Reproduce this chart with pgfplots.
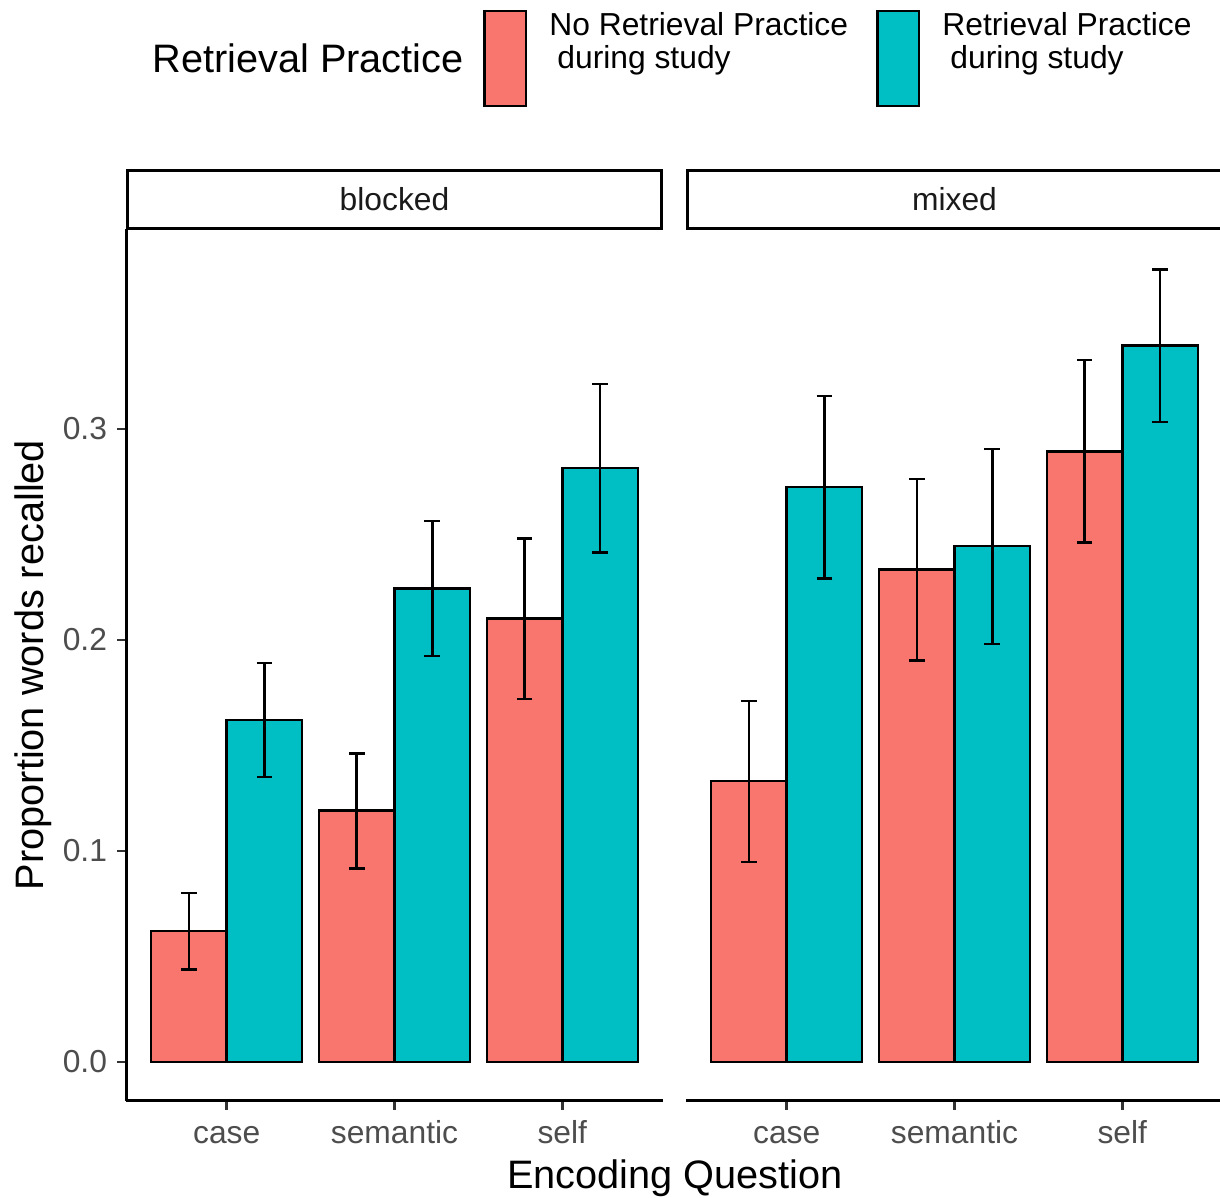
\documentclass[border=0pt]{standalone}
\usepackage{fontspec}
\setmainfont{Liberation Sans}
\usepackage{pgfplots}
\pgfplotsset{compat=1.18}
\usepackage{pgfplotstable}
\definecolor{cRed}{HTML}{F8766D}
\definecolor{cTeal}{HTML}{00BFC4}
\definecolor{labc}{HTML}{4D4D4D}
\definecolor{tickc}{HTML}{333333}
\definecolor{stripc}{HTML}{1A1A1A}
\newcommand{\bigf}{\fontsize{19.85pt}{23.8pt}\selectfont}
\newcommand{\smf}{\fontsize{15.9pt}{19pt}\selectfont}

\pgfplotstableread{
x y ep em
0.775 0.0621 0.0179 0.0182
1.775 0.1191 0.0270 0.0273
2.775 0.2103 0.0379 0.0383
}\blockedNo
\pgfplotstableread{
x y ep em
1.225 0.1621 0.0270 0.0270
2.225 0.2243 0.0321 0.0320
3.225 0.2814 0.0399 0.0400
}\blockedYes
\pgfplotstableread{
x y ep em
0.775 0.1332 0.0379 0.0384
1.775 0.2335 0.0428 0.0433
2.775 0.2894 0.0432 0.0431
}\mixedNo
\pgfplotstableread{
x y ep em
1.225 0.2724 0.0432 0.0432
2.225 0.2445 0.0459 0.0464
3.225 0.3395 0.0360 0.0362
}\mixedYes

\pgfplotsset{
  panel/.style={
    scale only axis, width=268.5pt, height=436pt,
    xmin=0.4, xmax=3.6, ymin=-0.01848, ymax=0.39479,
    xtick={1,2,3}, xticklabels={case,semantic,self},
    tick align=outside, major tick length=4.5pt,
    major tick style={color=tickc, line width=1.2pt},
    axis line style={line width=1.5pt, black},
    xticklabel style={font=\smf, text=labc, anchor=base, inner sep=0pt, yshift=-16.65pt},
    yticklabel style={font=\smf, text=labc, anchor=east, inner sep=0pt, xshift=-4.8pt},
  },
  barsty/.style={ybar, bar width=0.45, bar shift=0pt, fill=#1, draw=black, line width=1.25pt,
    error bars/.cd, y dir=both, y explicit,
    error bar style={line width=1.25pt, black},
    error mark options={rotate=90, mark size=3.9pt, line width=1.25pt, draw=black}},
}

\begin{document}
\begin{tikzpicture}
\useasboundingbox (0,0) rectangle (610pt,599pt);
% left panel
\begin{axis}[panel, at={(63pt,48.5pt)}, anchor=south west,
  axis lines*=left,
  ytick={0,0.1,0.2,0.3}, yticklabels={0.0,0.1,0.2,0.3}]
\addplot[barsty=cRed] table[x=x, y=y, y error plus=ep, y error minus=em] {\blockedNo};
\addplot[barsty=cTeal] table[x=x, y=y, y error plus=ep, y error minus=em] {\blockedYes};
\end{axis}
% right panel
\begin{axis}[panel, at={(343pt,48.5pt)}, anchor=south west,
  axis x line*=bottom, axis y line=none, ytick=\empty]
\addplot[barsty=cRed] table[x=x, y=y, y error plus=ep, y error minus=em] {\mixedNo};
\addplot[barsty=cTeal] table[x=x, y=y, y error plus=ep, y error minus=em] {\mixedYes};
\end{axis}
% strips
\draw[line width=1.6pt, fill=white] (63.8pt,484.8pt) rectangle (330.7pt,513.7pt);
\draw[line width=1.6pt, fill=white] (343.8pt,484.8pt) rectangle (611pt,513.7pt);
\node[anchor=base, inner sep=0pt, font=\smf, text=stripc] at (197.25pt,493.5pt) {blocked};
\node[anchor=base, inner sep=0pt, font=\smf, text=stripc] at (477.25pt,493.5pt) {mixed};
% axis titles
\node[anchor=base, inner sep=0pt, font=\bigf] at (337.5pt,4.85pt) {Encoding Question};
\node[anchor=base, inner sep=0pt, font=\bigf, rotate=90] at (21.5pt,266.5pt) {Proportion words recalled};
% legend
\node[anchor=base west, inner sep=0pt, font=\bigf] at (76pt,562.5pt) {Retrieval Practice};
\draw[line width=1.3pt, fill=cRed] (242.3pt,546pt) rectangle (263pt,593.5pt);
\draw[line width=1.3pt, fill=cTeal] (438.8pt,546pt) rectangle (459.5pt,593.5pt);
\node[anchor=base west, inner sep=0pt, font=\smf] at (274.5pt,581pt) {No Retrieval Practice};
\node[anchor=base west, inner sep=0pt, font=\smf] at (278.5pt,564.85pt) {during study};
\node[anchor=base west, inner sep=0pt, font=\smf] at (471pt,581pt) {Retrieval Practice};
\node[anchor=base west, inner sep=0pt, font=\smf] at (475pt,564.85pt) {during study};
\end{tikzpicture}
\end{document}
